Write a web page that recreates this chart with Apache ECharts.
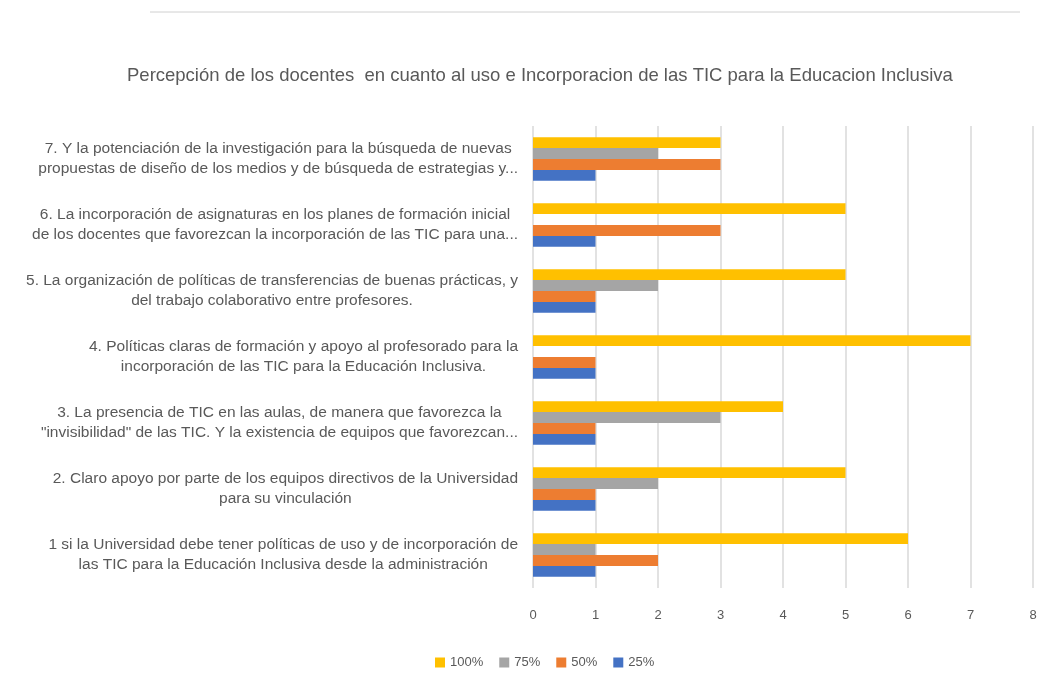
<!DOCTYPE html>
<html>
<head>
<meta charset="utf-8">
<script src="https://cdn.jsdelivr.net/npm/echarts@6/dist/echarts.min.js"></script>
<style>
  html, body { margin: 0; padding: 0; background: #fff; }
  #chart { width: 1050px; height: 694px; }
</style>
</head>
<body>
<div id="chart"></div>
<script>
// preguntas, de abajo (1) hacia arriba (7)
const categories = [
    '1 si la Universidad debe tener políticas de uso y de incorporación de\nlas TIC para la Educación Inclusiva desde la administración',
    '2. Claro apoyo por parte de los equipos directivos de la Universidad\npara su vinculación',
    '3. La presencia de TIC en las aulas, de manera que favorezca la\n"invisibilidad" de las TIC. Y la existencia de equipos que favorezcan...',
    '4. Políticas claras de formación y apoyo al profesorado para la\nincorporación de las TIC para la Educación Inclusiva.',
    '5. La organización de políticas de transferencias de buenas prácticas, y\ndel trabajo colaborativo entre profesores.',
    '6. La incorporación de asignaturas en los planes de formación inicial\nde los docentes que favorezcan la incorporación de las TIC para una...',
    '7. Y la potenciación de la investigación para la búsqueda de nuevas\npropuestas de diseño de los medios y de búsqueda de estrategias y...'
]
const values100 = [6, 5, 4, 7, 5, 5, 3]
const values75 = [1, 2, 3, 0, 2, 0, 2]
const values50 = [2, 1, 1, 1, 1, 3, 3]
const values25 = [1, 1, 1, 1, 1, 1, 1]
const xTicks = [0, 1, 2, 3, 4, 5, 6, 7, 8]

const chart = echarts.init(document.getElementById('chart'))

const textGray = '#595959'

function bar(name, data, color) {
    return {
        name: name,
        type: 'bar',
        data: data,
        barGap: '0%',
        barCategoryGap: '34%',
        itemStyle: { color: color },
        animation: false
    }
}

chart.setOption({
    title: {
        text: 'Percepción de los docentes  en cuanto al uso e Incorporacion de las TIC para la Educacion Inclusiva',
        left: 122,
        top: 61,
        textStyle: {
            fontFamily: 'Liberation Sans',
            fontSize: 18.5,
            fontWeight: 'normal',
            color: textGray
        }
    },
    graphic: [{
        type: 'line',
        shape: { x1: 150, y1: 12, x2: 1020, y2: 12 },
        style: { stroke: '#d0d0d0', lineWidth: 1 }
    }],
    legend: {
        data: ['100%', '75%', '50%', '25%'],
        bottom: 20,
        left: 430,
        icon: 'rect',
        itemWidth: 10,
        itemHeight: 10,
        itemGap: 16,
        textStyle: { fontFamily: 'Liberation Sans', fontSize: 13, color: textGray }
    },
    grid: {
        left: 533,
        right: 17,
        top: 126,
        bottom: 106
    },
    xAxis: {
        type: 'value',
        min: xTicks[0],
        max: xTicks[xTicks.length - 1],
        interval: 1,
        axisLine: { show: false },
        axisTick: { show: false },
        splitLine: { lineStyle: { color: '#d9d9d9', width: 1.5 } },
        axisLabel: {
            margin: 21,
            fontFamily: 'Liberation Sans',
            fontSize: 13,
            color: textGray
        }
    },
    yAxis: {
        type: 'category',
        data: categories,
        axisLine: { show: false },
        axisTick: { show: false },
        axisLabel: {
            margin: 15,
            formatter: function (v) {
                return v.split('\n').map(function (l) { return '{c|' + l + '}' }).join('\n')
            },
            rich: {
                c: {
                    align: 'center',
                    fontFamily: 'Liberation Sans',
                    fontSize: 15.5,
                    lineHeight: 20,
                    color: textGray
                }
            }
        }
    },
    // en ECharts la primera serie queda arriba de cada grupo
    series: [
        bar('100%', values100, '#FFC000'),
        bar('75%', values75, '#A5A5A5'),
        bar('50%', values50, '#ED7D31'),
        bar('25%', values25, '#4472C4')
    ]
})
</script>
</body>
</html>
